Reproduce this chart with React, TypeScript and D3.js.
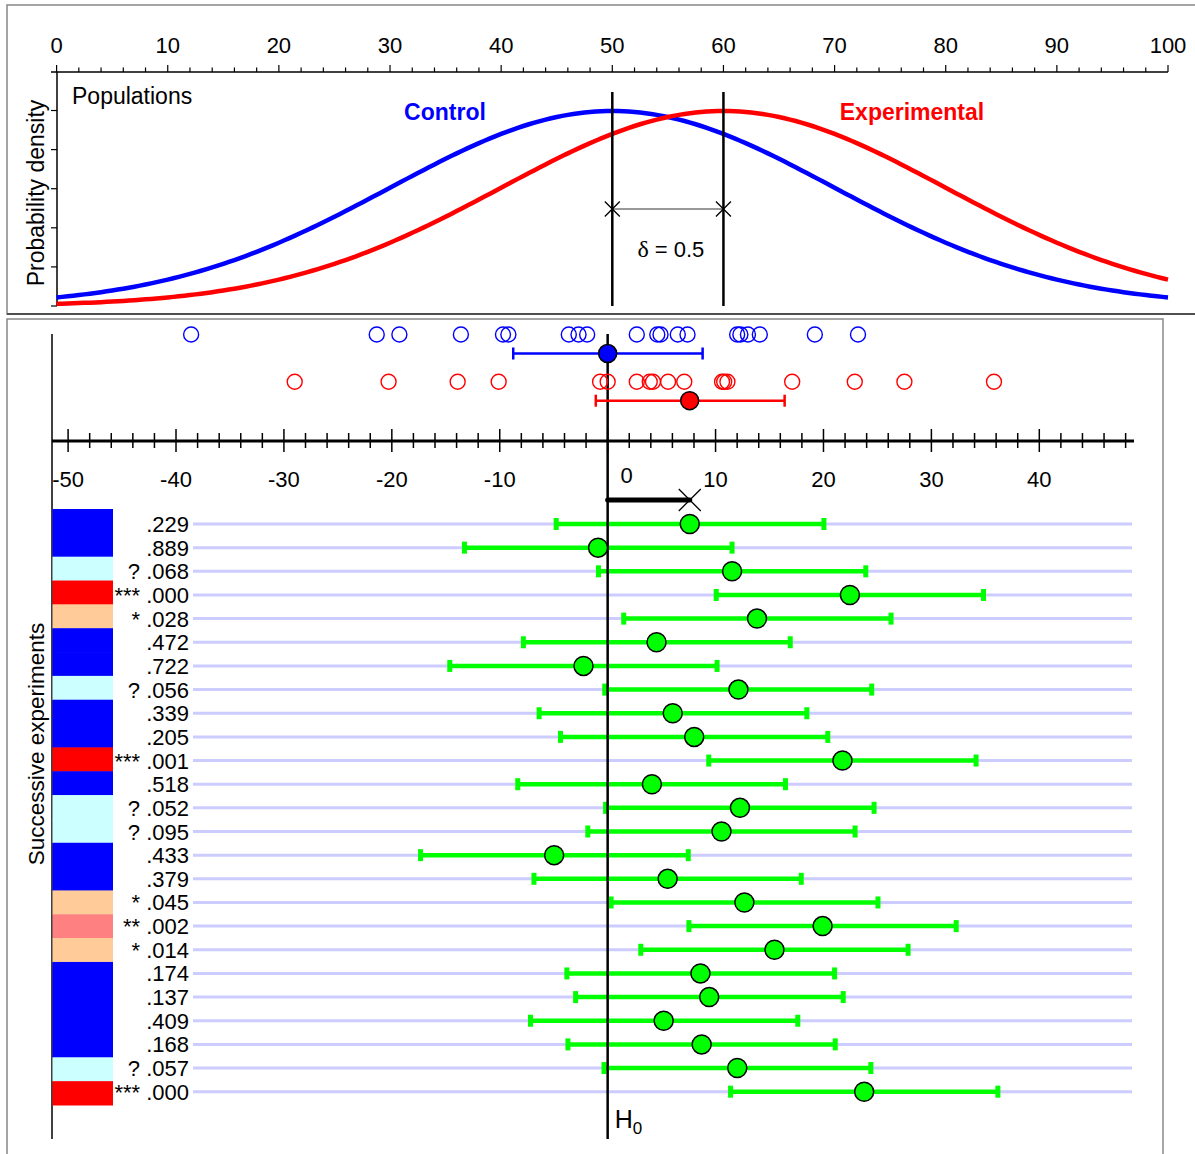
import React, { useEffect, useRef } from 'react';
import * as d3 from 'd3';

// top panel: two populations
const popNames = ['Control', 'Experimental'];
const popMeans = [50, 60];
const popSd = 20;
const popColors = ['#0000ff', '#ff0000'];

// lower panel: one pair of samples
const controlSample = [-38.6, -21.4, -19.3, -13.6, -9.7, -9.2, -3.6, -2.7, -1.9, 2.7,
    4.6, 4.9, 6.5, 7.4, 12.0, 12.3, 13.0, 14.1, 19.2, 23.2];
const experimentalSample = [-29.0, -20.3, -13.9, -10.1, -0.7, 0.0, 2.7, 3.9, 4.2, 5.6,
    7.1, 10.6, 10.8, 11.1, 17.1, 22.9, 27.5, 35.8];
const sampleMeans = [0.0, 7.6];
const sampleLo = [-8.75, -1.1];
const sampleHi = [8.8, 16.4];

// successive experiments (difference + 95% CI)
const pValues = [.229, .889, .068, .000, .028, .472, .722, .056, .339, .205, .001, .518, .052,
    .095, .433, .379, .045, .002, .014, .174, .137, .409, .168, .057, .000];
const diffMeans = [7.61, -0.89, 11.53, 22.45, 13.84, 4.53, -2.24, 12.12, 6.03, 8.02, 21.76, 4.10, 12.26,
    10.55, -4.96, 5.56, 12.67, 19.92, 15.46, 8.60, 9.41, 5.19, 8.71, 12.01, 23.77];
const diffLo = [-4.77, -13.27, -0.85, 10.06, 1.49, -7.81, -14.63, -0.27, -6.35, -4.37, 9.37, -8.33, -0.19,
    -1.84, -17.34, -6.83, 0.32, 7.53, 3.07, -3.78, -2.97, -7.15, -3.68, -0.34, 11.39];
const diffHi = [20.04, 11.53, 23.92, 34.83, 26.26, 16.92, 10.14, 24.47, 18.46, 20.40, 34.14, 16.48, 24.69,
    22.93, 7.47, 17.94, 25.05, 32.30, 27.84, 21.03, 21.83, 17.62, 21.09, 24.39, 36.16];

const topTicks = d3.range(0, 101, 10);
const lowTicks = d3.range(-50, 41, 10);

const font = "'Liberation Sans', Arial, sans-serif";

function marker(p: number) {
    if (p <= 0.001) return '***';
    if (p < 0.01) return '**';
    if (p < 0.05) return '*';
    if (p < 0.1) return '?';
    return '';
}

function bandColor(p: number) {
    if (p <= 0.001) return '#ff0000';
    if (p < 0.01) return '#ff8080';
    if (p < 0.05) return '#ffcc99';
    if (p < 0.1) return '#ccffff';
    return '#0000ff';
}

function cross(g: any, x: number, y: number, s: number) {
    g.append('path')
        .attr('d', `M${x - s},${y - s}L${x + s},${y + s}M${x - s},${y + s}L${x + s},${y - s}`)
        .attr('stroke', '#000')
        .attr('stroke-width', 1.3)
        .attr('fill', 'none');
}

export default function App() {
    const ref = useRef<SVGSVGElement>(null);

    useEffect(() => {
        const svg = d3.select(ref.current);
        svg.selectAll('*').remove();

        // ---------- top panel ----------
        const top = svg.append('g');
        top.append('rect')
            .attr('x', 7).attr('y', 5).attr('width', 1200).attr('height', 309)
            .attr('fill', 'none').attr('stroke', '#888').attr('stroke-width', 1.5);
        top.append('line')
            .attr('x1', 7).attr('x2', 1195).attr('y1', 314).attr('y2', 314)
            .attr('stroke', '#333').attr('stroke-width', 1.5);

        const tx = d3.scaleLinear().domain([0, 100]).range([56.6, 1168]);
        const ty = d3.scaleLinear().domain([0, 0.02]).range([306, 110.5]);

        // x axis on top
        top.append('line')
            .attr('x1', 51).attr('x2', tx(100)).attr('y1', 72).attr('y2', 72)
            .attr('stroke', '#000').attr('stroke-width', 1.5);
        top.selectAll('.tt')
            .data(d3.range(0, 101, 2))
            .enter().append('line')
            .attr('x1', d => tx(d)).attr('x2', d => tx(d))
            .attr('y1', d => d % 10 === 0 ? 65 : 67.5).attr('y2', 72)
            .attr('stroke', '#000').attr('stroke-width', 1.2);
        top.selectAll('.tl')
            .data(topTicks)
            .enter().append('text')
            .attr('x', d => tx(d)).attr('y', 53)
            .attr('text-anchor', 'middle')
            .attr('font-family', font).attr('font-size', 22)
            .text(d => d);

        // y axis
        top.append('line')
            .attr('x1', 57).attr('x2', 57).attr('y1', 72).attr('y2', 306)
            .attr('stroke', '#000').attr('stroke-width', 1.5);
        top.selectAll('.yt')
            .data(d3.range(0, 0.0201, 0.004))
            .enter().append('line')
            .attr('x1', 51).attr('x2', 57)
            .attr('y1', d => ty(d)).attr('y2', d => ty(d))
            .attr('stroke', '#000').attr('stroke-width', 1.2);

        top.append('text')
            .attr('transform', 'translate(44,193) rotate(-90)')
            .attr('text-anchor', 'middle')
            .attr('font-family', font).attr('font-size', 23)
            .text('Probability density');
        top.append('text')
            .attr('x', 72).attr('y', 104)
            .attr('font-family', font).attr('font-size', 23)
            .text('Populations');

        // density curves
        const pdf = (x: number, m: number) =>
            Math.exp(-0.5 * ((x - m) / popSd) ** 2) / (popSd * Math.sqrt(2 * Math.PI));
        const line = d3.line<number>()
            .x(d => tx(d));
        popMeans.forEach((m, i) => {
            top.append('path')
                .datum(d3.range(0, 100.01, 0.5))
                .attr('d', line.y(d => ty(pdf(d, m))))
                .attr('fill', 'none')
                .attr('stroke', popColors[i])
                .attr('stroke-width', 4.5);
        });

        // mean lines and delta
        popMeans.forEach(m => {
            top.append('line')
                .attr('x1', tx(m)).attr('x2', tx(m)).attr('y1', 92).attr('y2', 306)
                .attr('stroke', '#000').attr('stroke-width', 2.5);
        });
        top.append('line')
            .attr('x1', tx(popMeans[0])).attr('x2', tx(popMeans[1])).attr('y1', 209).attr('y2', 209)
            .attr('stroke', '#333').attr('stroke-width', 1);
        cross(top, tx(popMeans[0]), 209, 7.5);
        cross(top, tx(popMeans[1]), 209, 7.5);
        const dt = top.append('text')
            .attr('x', (tx(popMeans[0]) + tx(popMeans[1])) / 2 + 3).attr('y', 257)
            .attr('text-anchor', 'middle')
            .attr('font-family', font).attr('font-size', 22);
        dt.append('tspan').attr('font-family', "'Liberation Serif', 'DejaVu Serif', serif").attr('font-size', 24).text('δ');
        dt.append('tspan').text(' = 0.5');

        top.append('text')
            .attr('x', 445).attr('y', 120)
            .attr('text-anchor', 'middle')
            .attr('font-family', font).attr('font-size', 23).attr('font-weight', 'bold')
            .attr('fill', popColors[0])
            .text(popNames[0]);
        top.append('text')
            .attr('x', 912).attr('y', 120)
            .attr('text-anchor', 'middle')
            .attr('font-family', font).attr('font-size', 23).attr('font-weight', 'bold')
            .attr('fill', popColors[1])
            .text(popNames[1]);

        // ---------- lower panel ----------
        const low = svg.append('g');
        low.append('rect')
            .attr('x', 7).attr('y', 319).attr('width', 1156).attr('height', 860)
            .attr('fill', 'none').attr('stroke', '#888').attr('stroke-width', 1.5);

        const x = d3.scaleLinear().domain([-50, 40]).range([68.1, 1039.3]);
        const rowY = d3.scalePoint<number>().domain(d3.range(pValues.length)).range([524, 1091.7]);
        const bandY = d3.scaleBand<number>().domain(d3.range(pValues.length)).range([509, 1105]);

        // left axis line
        low.append('line')
            .attr('x1', 52).attr('x2', 52).attr('y1', 334).attr('y2', 1139)
            .attr('stroke', '#000').attr('stroke-width', 1.5);

        // axis across
        low.append('line')
            .attr('x1', 52).attr('x2', 1134).attr('y1', 441).attr('y2', 441)
            .attr('stroke', '#000').attr('stroke-width', 3);
        low.selectAll('.lt')
            .data(d3.range(-50, 49, 2))
            .enter().append('line')
            .attr('x1', d => x(d)).attr('x2', d => x(d))
            .attr('y1', d => d % 10 === 0 ? 429 : 433)
            .attr('y2', d => d % 10 === 0 ? 452 : 448)
            .attr('stroke', '#000').attr('stroke-width', 1.5);
        low.selectAll('.ll')
            .data(lowTicks)
            .enter().append('text')
            .attr('x', d => d === 0 ? x(d) + 19 : x(d))
            .attr('y', d => d === 0 ? 483 : 487)
            .attr('text-anchor', 'middle')
            .attr('font-family', font).attr('font-size', 22)
            .text(d => d);

        low.append('text')
            .attr('transform', 'translate(44,744) rotate(-90)')
            .attr('text-anchor', 'middle')
            .attr('font-family', font).attr('font-size', 22.5)
            .text('Successive experiments');

        // significance bands
        low.selectAll('.band')
            .data(pValues)
            .enter().append('rect')
            .attr('x', 52.5).attr('width', 60.5)
            .attr('y', (d, i) => bandY(i)!)
            .attr('height', bandY.bandwidth() + 0.5)
            .attr('fill', d => bandColor(d));

        low.selectAll('.plab')
            .data(pValues)
            .enter().append('text')
            .attr('x', 189).attr('y', (d, i) => rowY(i)! + 8)
            .attr('text-anchor', 'end')
            .attr('font-family', font).attr('font-size', 22)
            .text(d => (marker(d) ? marker(d) + ' ' : '') + d3.format('.3f')(d).replace(/^0/, ''));

        // row guide lines
        low.selectAll('.row')
            .data(pValues)
            .enter().append('line')
            .attr('x1', 193).attr('x2', 1132)
            .attr('y1', (d, i) => rowY(i)!).attr('y2', (d, i) => rowY(i)!)
            .attr('stroke', '#ccccff').attr('stroke-width', 3);

        // green CIs
        low.selectAll('.ci')
            .data(diffMeans)
            .enter().append('line')
            .attr('x1', (d, i) => x(diffLo[i])).attr('x2', (d, i) => x(diffHi[i]))
            .attr('y1', (d, i) => rowY(i)!).attr('y2', (d, i) => rowY(i)!)
            .attr('stroke', '#00ff00').attr('stroke-width', 4.5);
        [diffLo, diffHi].forEach(arr => {
            low.selectAll(null)
                .data(arr)
                .enter().append('rect')
                .attr('x', d => x(d) - 2.5).attr('width', 5)
                .attr('y', (d, i) => rowY(i)! - 6).attr('height', 12)
                .attr('fill', '#00ff00');
        });

        // H0 line
        low.append('line')
            .attr('x1', x(0)).attr('x2', x(0)).attr('y1', 334).attr('y2', 1139)
            .attr('stroke', '#000').attr('stroke-width', 2.5);
        const h0 = low.append('text')
            .attr('x', x(0) + 7).attr('y', 1128)
            .attr('font-family', font).attr('font-size', 25);
        h0.append('tspan').text('H');
        h0.append('tspan').attr('font-size', 17).attr('dy', 6).text('0');

        low.selectAll('.mean')
            .data(diffMeans)
            .enter().append('circle')
            .attr('cx', d => x(d)).attr('cy', (d, i) => rowY(i)!)
            .attr('r', 9.5)
            .attr('fill', '#00ff00').attr('stroke', '#000').attr('stroke-width', 1.5);

        // first experiment's difference marker
        low.append('line')
            .attr('x1', x(0)).attr('x2', x(diffMeans[0])).attr('y1', 500).attr('y2', 500)
            .attr('stroke', '#000').attr('stroke-width', 5).attr('stroke-linecap', 'round');
        cross(low, x(diffMeans[0]), 500, 11);

        // sample dot plots
        const samples = [controlSample, experimentalSample];
        const dotY = [334.5, 381.7];
        const meanY = [353.5, 400.7];
        samples.forEach((s, k) => {
            low.selectAll(null)
                .data(s)
                .enter().append('circle')
                .attr('cx', d => x(d)).attr('cy', dotY[k]).attr('r', 7.5)
                .attr('fill', 'none').attr('stroke', popColors[k]).attr('stroke-width', 1.4);
            low.append('line')
                .attr('x1', x(sampleLo[k])).attr('x2', x(sampleHi[k]))
                .attr('y1', meanY[k]).attr('y2', meanY[k])
                .attr('stroke', popColors[k]).attr('stroke-width', 2.5);
            [sampleLo[k], sampleHi[k]].forEach(v => {
                low.append('line')
                    .attr('x1', x(v)).attr('x2', x(v))
                    .attr('y1', meanY[k] - 6).attr('y2', meanY[k] + 6)
                    .attr('stroke', popColors[k]).attr('stroke-width', 2.5);
            });
            low.append('circle')
                .attr('cx', x(sampleMeans[k])).attr('cy', meanY[k]).attr('r', 9)
                .attr('fill', popColors[k]).attr('stroke', '#000').attr('stroke-width', 1.5);
        });
    }, []);

    return (
        <svg ref={ref} width={1195} height={1154}
            style={{ position: 'absolute', left: 0, top: 0, background: '#fff' }} />
    );
}
